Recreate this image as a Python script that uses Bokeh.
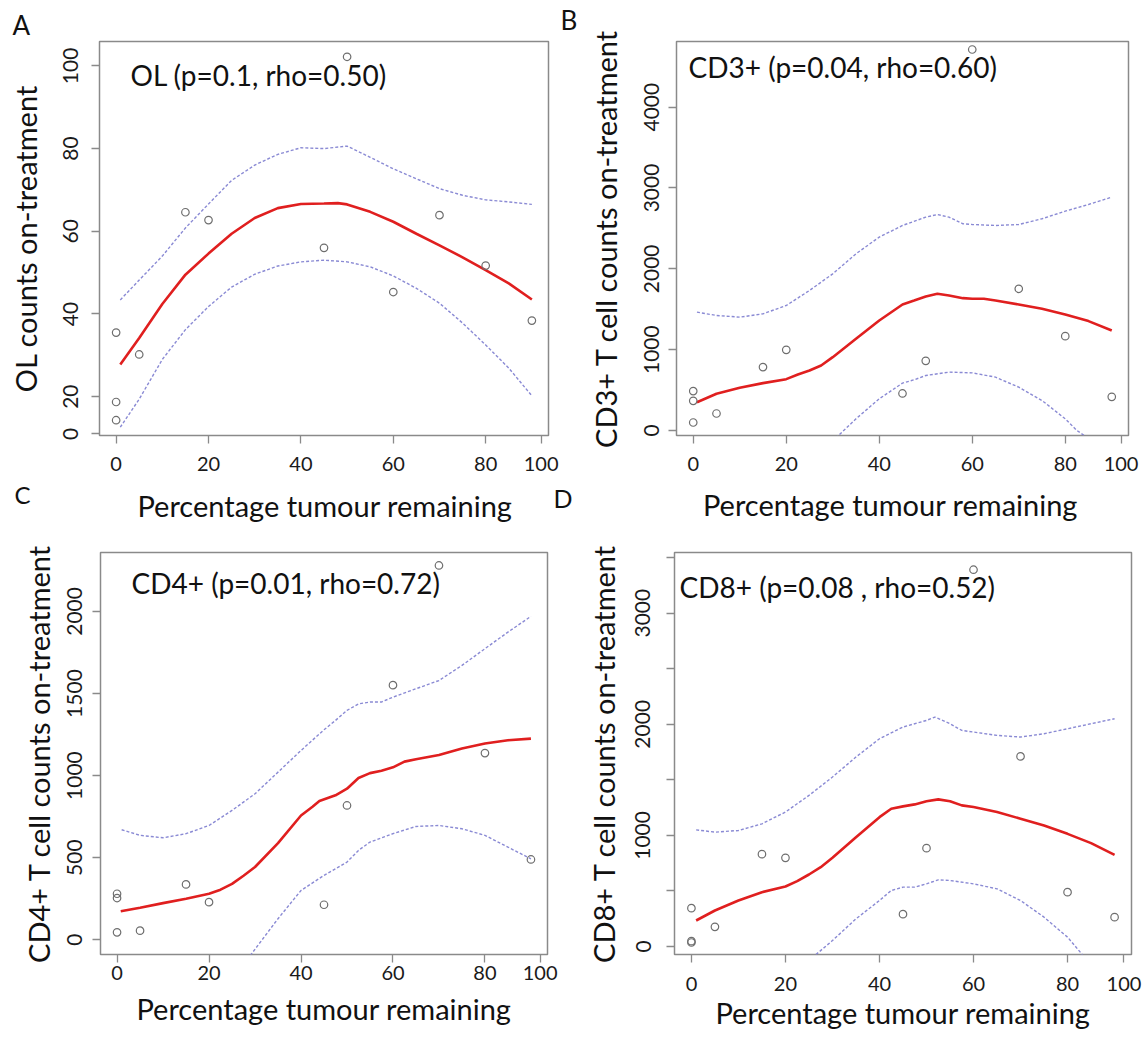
import math
from bokeh.plotting import figure
from bokeh.models import FixedTicker, Label, Range1d
from bokeh.layouts import row, column
from bokeh.embed import file_html
from bokeh.resources import INLINE

FONT = "Lato"

# ---------------- data ----------------
pct_remaining = [0, 0, 0, 5, 15, 20, 45, 50, 60, 70, 80, 90]

ol_counts = [35.5, 18.7, 14.3, 30.2, 64.6, 62.7, 56.0, 102.2, 45.3, 63.9, 51.7, 38.4]
cd3_counts = [487, 367, 99, 210, 784, 998, 458, 862, 4713, 1753, 1167, 416]
cd4_counts = [280, 254, 45, 55, 337, 229, 213, 818, 1551, 2280, 1137, 489]
cd8_counts = [345, 48, 36, 177, 831, 798, 291, 885, 3391, 1711, 489, 264]

# OL loess fit with confidence band
ol_fit_x = [0.9, 5, 10, 15, 20, 25, 30, 35, 40, 45, 48, 50, 55, 60, 65, 70, 75, 80, 85, 90]
ol_fit = [27.8, 34.2, 42.4, 49.5, 54.6, 59.4, 63.2, 65.6, 66.6, 66.7, 66.8, 66.5, 64.7, 62.3, 59.4, 56.6, 53.7, 50.6, 47.4, 43.5]
ol_band_x = [0.9, 5, 10, 15, 20, 25, 30, 35, 40, 45, 50, 55, 60, 65, 70, 75, 80, 85, 90]
ol_upper = [43.4, 48.2, 54.0, 60.8, 66.6, 72.3, 76.0, 78.6, 80.2, 80.0, 80.6, 77.9, 75.1, 72.7, 70.3, 68.7, 67.6, 67.1, 66.5]
ol_lower = [12.6, 19.4, 29.0, 36.2, 41.8, 46.5, 49.6, 51.6, 52.6, 53.0, 52.6, 51.4, 49.2, 46.2, 42.6, 37.8, 32.5, 26.9, 20.2]

# CD3+
cd3_fit_x = [0.8, 5, 10, 15, 20, 22.5, 25, 27.5, 30, 35, 40, 45, 47.5, 50, 52.5, 55, 58, 60, 62.5, 65, 70, 75, 80, 85, 90]
cd3_fit = [350, 454, 528, 586, 635, 693, 742, 804, 907, 1134, 1361, 1559, 1608, 1658, 1691, 1670, 1637, 1629, 1629, 1608, 1559, 1505, 1435, 1353, 1237]
cd3_upper_x = [0.8, 5, 10, 15, 20, 25, 30, 35, 40, 45, 50, 52.5, 55, 58, 60, 65, 70, 75, 80, 85, 90]
cd3_upper = [1464, 1423, 1402, 1443, 1546, 1732, 1938, 2186, 2392, 2536, 2639, 2672, 2639, 2557, 2548, 2536, 2548, 2619, 2713, 2796, 2887]
cd3_lower_x = [0.8, 5, 10, 15, 20, 25, 28, 31, 35, 40, 45, 47.5, 50, 55, 60, 65, 70, 75, 80, 82.5, 84.4, 88, 90]
cd3_lower = [-764, -515, -346, -271, -276, -250, -180, -74, 144, 392, 586, 627, 680, 722, 713, 660, 536, 371, 144, 0, -74, -300, -413]

# CD4+
cd4_fit_x = [0.8, 5, 10, 15, 20, 22.5, 25, 27.5, 30, 35, 40, 42.5, 44, 47.5, 50, 52.5, 55, 57.5, 60, 62.5, 65, 70, 75, 80, 85, 90]
cd4_fit = [173, 195, 223, 250, 280, 305, 340, 390, 443, 589, 757, 810, 845, 880, 920, 985, 1015, 1030, 1050, 1085, 1100, 1125, 1165, 1195, 1215, 1225]
cd4_upper_x = [1, 5, 10, 15, 20, 25, 30, 35, 40, 45, 47.5, 50, 52.5, 55, 57.5, 60, 65, 70, 75, 80, 85, 90]
cd4_upper = [670, 636, 621, 646, 696, 788, 889, 1021, 1153, 1279, 1336, 1397, 1437, 1448, 1448, 1478, 1529, 1579, 1671, 1773, 1874, 1970]
cd4_lower_x = [0.8, 5, 10, 15, 20, 25, 28, 30.5, 35, 40, 45, 47.5, 50, 52.5, 55, 60, 65, 70, 75, 80, 85, 90]
cd4_lower = [-700, -600, -500, -420, -350, -243, -132, -39, 128, 300, 392, 432, 473, 544, 595, 646, 690, 696, 676, 636, 564, 493]

# CD8+
cd8_fit_x = [1, 5, 10, 15, 20, 22.5, 25, 27.5, 30, 35, 40, 42.5, 45, 47.5, 50, 52.5, 55, 57.5, 60, 65, 70, 75, 80, 85, 90]
cd8_fit = [234, 324, 414, 489, 540, 588, 648, 714, 798, 984, 1164, 1240, 1261, 1279, 1308, 1324, 1308, 1270, 1255, 1210, 1150, 1089, 1014, 930, 825]
cd8_upper_x = [1, 5, 10, 15, 20, 25, 30, 35, 40, 45, 50, 51.8, 55, 57.5, 60, 65, 70, 75, 80, 85, 90]
cd8_upper = [1050, 1029, 1044, 1104, 1210, 1360, 1525, 1705, 1870, 1975, 2035, 2065, 2005, 1945, 1930, 1900, 1885, 1915, 1960, 2005, 2050]
cd8_lower_x = [1, 5, 10, 15, 20, 24.2, 25, 30, 35, 40, 42.5, 45, 47.5, 50, 52.5, 55, 60, 65, 70, 75, 80, 83, 84, 87, 90]
cd8_lower = [-600, -460, -370, -300, -240, -141, -126, 54, 249, 414, 504, 534, 534, 564, 600, 594, 564, 519, 414, 264, 84, -66, -141, -300, -420]

# axis ticks / labels as printed in the figure
x_ticks = [0, 20, 40, 60, 80, 92]
x_tick_text = {92: "100"}
x_label = "Percentage tumour remaining"
panel_letters = ["A", "B", "C", "D"]

# ---------------- style ----------------
FRAME_GREY = "#8a8a8a"
RED = "#e01f1f"
BAND = "#8a8ad4"
PT = "#6e6e6e"
X_LO, X_HI = -3.6, 93.6
BASE_FIX = 11  # lift for alphabetic-baseline labels


def make_panel(pts_y, fit_x, fit_y, up_x, up_y, lo_x, lo_y, cfg):
    fw = cfg["w"] - cfg["bl"] - cfg["br"]
    fh = cfg["h"] - cfg["bt"] - cfg["bb"]
    y0, y1 = cfg["yr"]
    p = figure(width=cfg["w"], height=cfg["h"], output_backend="svg", toolbar_location=None,
               title=None, x_range=Range1d(X_LO, X_HI), y_range=Range1d(y0, y1),
               min_border_left=cfg["bl"], min_border_right=cfg["br"],
               min_border_top=cfg["bt"], min_border_bottom=cfg["bb"])
    p.background_fill_color = "white"
    p.border_fill_color = "white"
    p.outline_line_color = FRAME_GREY
    p.outline_line_width = 1.5
    p.xgrid.visible = False
    p.ygrid.visible = False

    for ax in (p.xaxis[0], p.yaxis[0]):
        ax.axis_line_color = None
        ax.major_tick_line_color = FRAME_GREY
        ax.major_tick_line_width = 1.3
        ax.major_tick_in = 0
        ax.major_tick_out = 8
        ax.minor_tick_line_color = None
        ax.major_label_text_font = FONT
        ax.major_label_text_color = "#1a1a1a"
        ax.axis_label_text_font = FONT
        ax.axis_label_text_font_style = "normal"
        ax.axis_label_text_font_size = "29px"
        ax.axis_label_text_color = "#111111"

    xa = p.xaxis[0]
    xa.ticker = FixedTicker(ticks=x_ticks)
    xa.major_label_overrides = x_tick_text
    xa.major_label_text_font_size = "20px"
    xa.major_label_standoff = cfg["xst"]
    if cfg["xtitle"]:
        xa.axis_label = x_label
        xa.axis_label_standoff = cfg["xs"]

    ya = p.yaxis[0]
    ya.ticker = FixedTicker(ticks=cfg["yticks"])
    ya.major_label_overrides = cfg.get("yover", {})
    ya.major_label_text_font_size = "21px"
    ya.major_label_orientation = "parallel"
    ya.major_label_standoff = cfg["yst"]
    ya.axis_label = cfg["ylabel"]
    ya.axis_label_standoff = cfg["ys"]

    def dx2x(dx):
        return X_LO + dx / fw * (X_HI - X_LO)

    def dy2y(dy):
        return y0 + (dy + BASE_FIX) / fh * (y1 - y0)

    p.line(up_x, up_y, line_color=BAND, line_width=1.4, line_dash="3 2")
    p.line(lo_x, lo_y, line_color=BAND, line_width=1.4, line_dash="3 2")
    p.line(fit_x, fit_y, line_color=RED, line_width=2.6)
    p.scatter(pct_remaining, pts_y, marker="circle", size=7.5, fill_color=None,
              line_color=PT, line_width=1.2)

    # stat annotation (inside the frame)
    p.add_layout(Label(x=dx2x(cfg["adx"]), y=dy2y(cfg["ady"]), text=cfg["annot"],
                       text_font=FONT, text_font_size="28px", text_color="#111111",
                       text_align="left", text_baseline="alphabetic"))
    return p, dx2x, dy2y


def side_text(p, place, x, y, text, size, align="left"):
    # text drawn from a side panel of the figure, so it is not clipped to the frame
    p.add_layout(Label(x=x, y=y, text=text, text_font=FONT, text_font_size=size,
                       text_color="#111111", text_align=align,
                       text_baseline="alphabetic"), place)


# layout: columns split at x=578, rows split at y=480 (frames in a row share top/bottom)
cfgA = dict(w=578, h=480, bl=99, br=30, bt=41, bb=45, yr=(10.6, 105.9),
            yticks=[11, 20, 40, 60, 80, 100], yover={11: "0"}, yst=13, ys=18, xst=13, xs=0,
            xtitle=False, adx=31, ady=350, annot="OL (p=0.1, rho=0.50)",
            ylabel="OL counts on-treatment")
cfgB = dict(w=570, h=480, bl=98, br=20, bt=41, bb=45, yr=(-62, 4812),
            yticks=[0, 1000, 2000, 3000, 4000], yst=9, ys=19, xst=13, xs=0,
            xtitle=False, adx=12, ady=358, annot="CD3+ (p=0.04, rho=0.60)",
            ylabel="CD3+ T cell counts on-treatment")
cfgC = dict(w=578, h=556, bl=100, br=31, bt=72, bb=82, yr=(-90, 2359),
            yticks=[0, 500, 1000, 1500, 2000], yst=10, ys=9, xst=3, xs=8,
            xtitle=True, adx=31, ady=361, annot="CD4+ (p=0.01, rho=0.72)",
            ylabel="CD4+ T cell counts on-treatment")
cfgD = dict(w=570, h=556, bl=96, br=17, bt=72, bb=82, yr=(-72, 3546),
            yticks=[0, 500, 1000, 1500, 2000, 2500, 3000, 3500],
            yover={500: "", 1500: "", 2500: "", 3500: ""}, yst=16, ys=12, xst=14, xs=1,
            xtitle=True, adx=5, ady=357, annot="CD8+ (p=0.08 , rho=0.52)",
            ylabel="CD8+ T cell counts on-treatment")

pA, ax_a, ay_a = make_panel(ol_counts, ol_fit_x, ol_fit, ol_band_x, ol_upper, ol_band_x, ol_lower, cfgA)
pB, ax_b, ay_b = make_panel(cd3_counts, cd3_fit_x, cd3_fit, cd3_upper_x, cd3_upper, cd3_lower_x, cd3_lower, cfgB)
pC, ax_c, ay_c = make_panel(cd4_counts, cd4_fit_x, cd4_fit, cd4_upper_x, cd4_upper, cd4_lower_x, cd4_lower, cfgC)
pD, ax_d, ay_d = make_panel(cd8_counts, cd8_fit_x, cd8_fit, cd8_upper_x, cd8_upper, cd8_lower_x, cd8_lower, cfgD)

# panel letters A and B live in panel A's canvas, C and D in panel C's canvas
side_text(pA, "above", ax_a(-87), ay_a(400), panel_letters[0], "26px")
side_text(pA, "right", ax_a(461), ay_a(405), panel_letters[1], "26px")
side_text(pC, "above", ax_c(-86), ay_c(449), panel_letters[2], "24px")
side_text(pC, "right", ax_c(453), ay_c(446), panel_letters[3], "25px")

# x-axis titles of the top row, drawn from the bottom row's top margin
side_text(pC, "above", ax_c(224.5), ay_c(438), x_label, "29px", align="center")
side_text(pD, "above", ax_d(216), ay_d(439), x_label, "29px", align="center")

layout = column(row(pA, pB), row(pC, pD))
open("out.html", "w").write(file_html(layout, INLINE))
